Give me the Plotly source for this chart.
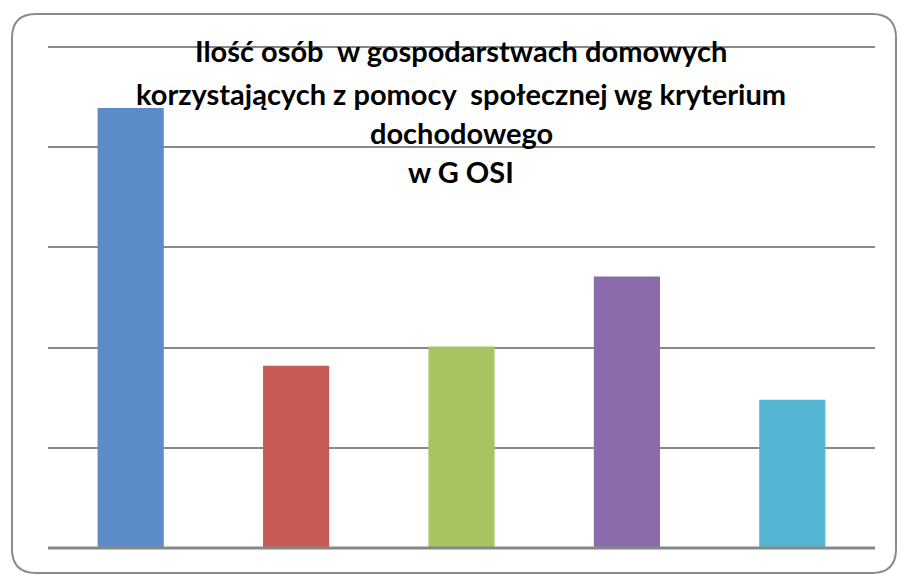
import plotly.graph_objects as go

categories = ["1", "2", "3", "4", "5"]
values = [4.39, 1.82, 2.01, 2.71, 1.48]
colors = ["#5B8BC8", "#C85B55", "#A6C462", "#8A6CAB", "#54B6D2"]
title_lines = [
    "Ilość osób  w gospodarstwach domowych",
    "korzystających z pomocy  społecznej wg kryterium",
    "dochodowego",
    "w G OSI",
]

W, H = 901, 576
L, R, T, B = 48, 26, 47, 28
pw, ph = W - L - R, H - T - B

def px(x):
    return (x - L) / pw

def py(y):
    return (H - B - y) / ph

fig = go.Figure()
fig.add_trace(go.Bar(x=categories, y=values, marker=dict(color=colors, line=dict(width=0)),
                     width=0.4, showlegend=False))

fig.update_layout(
    width=W, height=H,
    margin=dict(l=L, r=R, t=T, b=B),
    paper_bgcolor="white", plot_bgcolor="white",
    xaxis=dict(showticklabels=False, showgrid=False, zeroline=False, ticks=""),
    yaxis=dict(range=[0, 5], dtick=1, showticklabels=False, showgrid=True,
               gridcolor="#888888", gridwidth=2, zeroline=False, ticks=""),
)
# baseline and top gridline
fig.add_shape(type="line", xref="paper", yref="paper", x0=0, x1=1, y0=0, y1=0,
              line=dict(color="#888888", width=3))
fig.add_shape(type="line", xref="paper", yref="paper", x0=0, x1=1, y0=1, y1=1,
              line=dict(color="#888888", width=2), layer="below")

# rounded border
x0, x1, y0, y1, r = 12, 896, 14, 573, 24
path = (f"M {px(x0+r)} {py(y0)} L {px(x1-r)} {py(y0)} "
        f"Q {px(x1)} {py(y0)} {px(x1)} {py(y0+r)} "
        f"L {px(x1)} {py(y1-r)} Q {px(x1)} {py(y1)} {px(x1-r)} {py(y1)} "
        f"L {px(x0+r)} {py(y1)} Q {px(x0)} {py(y1)} {px(x0)} {py(y1-r)} "
        f"L {px(x0)} {py(y0+r)} Q {px(x0)} {py(y0)} {px(x0+r)} {py(y0)} Z")
fig.add_shape(type="path", xref="paper", yref="paper", path=path,
              line=dict(color="#8a8a8a", width=2))

line_y = [50, 93, 132, 171]
for t, yy in zip(title_lines, line_y):
    fig.add_annotation(text=t, xref="paper", yref="paper", x=px(461), y=py(yy),
                       xanchor="center", yanchor="middle", showarrow=False,
                       font=dict(family="Lato", size=29, color="black", weight="bold"))

fig.write_html("out.html", post_script="document.body.style.margin='0';",
               config={"displayModeBar": False})
